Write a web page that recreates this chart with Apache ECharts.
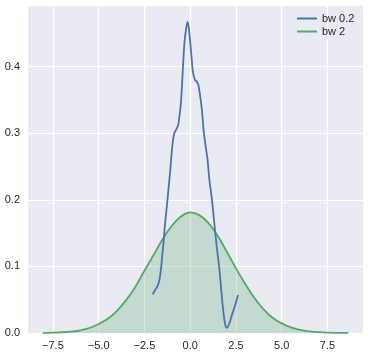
<!DOCTYPE html>
<html>
<head>
<meta charset="utf-8">
<script src="https://cdn.jsdelivr.net/npm/echarts@6/dist/echarts.min.js"></script>
<style>
html,body{margin:0;padding:0;background:#fff;}
#c{width:370px;height:356px;}
</style>
</head>
<body>
<div id="c"></div>
<script>
var seriesNames = ['bw 0.2', 'bw 2'];
var xTicks = [-7.5, -5.0, -2.5, 0.0, 2.5, 5.0, 7.5];
var yTicks = [0.0, 0.1, 0.2, 0.3, 0.4];

var bw02 = [
  [-2.05, 0.058], [-1.91, 0.065], [-1.79, 0.070], [-1.68, 0.080], [-1.60, 0.095],
  [-1.53, 0.115], [-1.46, 0.135], [-1.37, 0.165], [-1.27, 0.192], [-1.18, 0.218],
  [-1.09, 0.244], [-0.98, 0.280], [-0.87, 0.300], [-0.77, 0.305], [-0.66, 0.312],
  [-0.59, 0.325], [-0.51, 0.345], [-0.44, 0.375], [-0.40, 0.397], [-0.31, 0.437],
  [-0.22, 0.457], [-0.15, 0.467], [-0.07, 0.457], [0.04, 0.425], [0.15, 0.392],
  [0.26, 0.380], [0.37, 0.377], [0.45, 0.372], [0.55, 0.355], [0.64, 0.335],
  [0.73, 0.305], [0.82, 0.285], [0.95, 0.260], [1.04, 0.232], [1.19, 0.200],
  [1.30, 0.170], [1.41, 0.140], [1.50, 0.118], [1.60, 0.095], [1.71, 0.060],
  [1.82, 0.030], [1.92, 0.012], [2.00, 0.008], [2.11, 0.012], [2.28, 0.027],
  [2.46, 0.042], [2.61, 0.057]
];

var bw2 = [
  [-8.05, 0.0002], [-7.5, 0.0005], [-7.0, 0.0011], [-6.5, 0.0022], [-6.0, 0.0041],
  [-5.5, 0.0075], [-5.0, 0.0135], [-4.5, 0.0213], [-4.0, 0.0334], [-3.5, 0.0493],
  [-3.0, 0.0692], [-2.5, 0.0935], [-2.0, 0.117], [-1.5, 0.141], [-1.0, 0.161],
  [-0.5, 0.175], [0.0, 0.181], [0.5, 0.177], [1.0, 0.165], [1.5, 0.146],
  [2.0, 0.122], [2.5, 0.097], [3.0, 0.074], [3.5, 0.053], [4.0, 0.036],
  [4.5, 0.023], [5.0, 0.0144], [5.5, 0.0084], [6.0, 0.0047], [6.5, 0.0025],
  [7.0, 0.0012], [7.5, 0.0006], [8.0, 0.0003], [8.64, 0.0001]
];

var chart = echarts.init(document.getElementById('c'), null, {renderer: 'canvas'});
var font = 'Liberation Sans, Arial, sans-serif';
chart.setOption({
  animation: false,
  backgroundColor: '#ffffff',
  grid: {left: 28, right: 7, top: 6, bottom: 23, show: true, backgroundColor: '#EAEAF2', borderWidth: 0},
  legend: {
    orient: 'vertical', left: 297, top: 13, itemGap: 2, padding: 0,
    icon: 'rect', itemWidth: 20, itemHeight: 2,
    textStyle: {fontFamily: font, fontSize: 11, color: '#262626'},
    data: seriesNames
  },
  xAxis: {
    type: 'value', min: -8.86, max: 9.44,
    axisLine: {show: false},
    axisTick: {show: false, customValues: xTicks},
    axisLabel: {customValues: xTicks, margin: 7, fontFamily: font, fontSize: 11, color: '#262626',
      formatter: function (v) { return v.toFixed(1).replace('-', '\u2212'); }},
    splitLine: {show: true, lineStyle: {color: '#ffffff', width: 1.2}}
  },
  yAxis: {
    type: 'value', min: 0, max: 0.491,
    axisLine: {show: false},
    axisTick: {show: false, customValues: yTicks},
    axisLabel: {customValues: yTicks, margin: 8, fontFamily: font, fontSize: 11, color: '#262626',
      formatter: function (v) { return v.toFixed(1); }},
    splitLine: {show: true, lineStyle: {color: '#ffffff', width: 1.2}}
  },
  series: [
    {
      name: seriesNames[0], type: 'line', data: bw02, showSymbol: false, symbol: 'none',
      smooth: 0.25, z: 3,
      itemStyle: {color: '#4C72B0'},
      lineStyle: {color: '#4C72B0', width: 1.8}
    },
    {
      name: seriesNames[1], type: 'line', data: bw2, showSymbol: false, symbol: 'none',
      smooth: 0.3, z: 2,
      itemStyle: {color: '#55A868'},
      lineStyle: {color: '#55A868', width: 1.8},
      areaStyle: {color: '#55A868', opacity: 0.25}
    }
  ]
});
</script>
</body>
</html>
